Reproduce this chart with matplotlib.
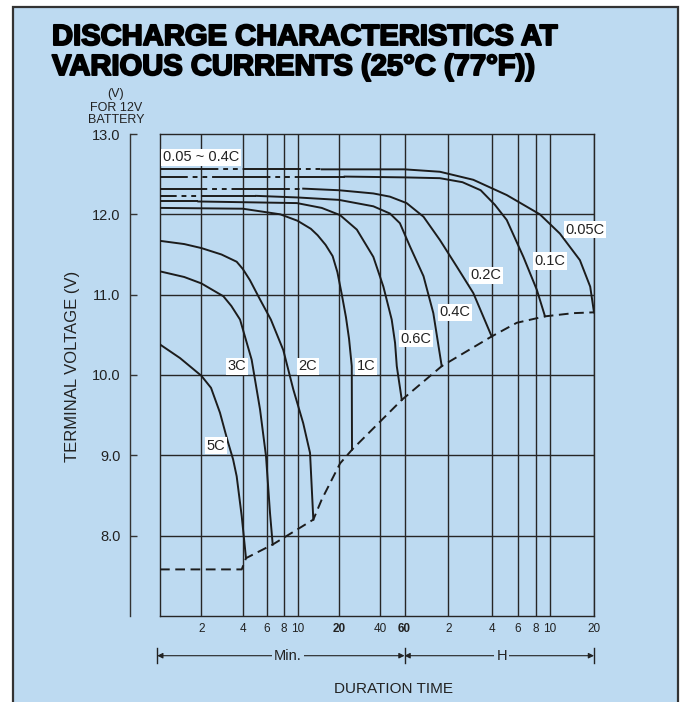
import numpy as np
import matplotlib
matplotlib.use("Agg")
import matplotlib.pyplot as plt
from matplotlib import patheffects as pe
from matplotlib.patches import Rectangle
from matplotlib.transforms import blended_transform_factory
from matplotlib.ticker import NullLocator

plt.rcParams['font.family'] = ['Liberation Sans', 'DejaVu Sans']
plt.rcParams['lines.scale_dashes'] = False

# ---------------- data (x in minutes, voltage in V) ----------------
C005_X = [1, 15, 60, 105, 178, 302, 510, 700, 960, 1130, 1200]
C005_V = [12.56, 12.56, 12.56, 12.53, 12.43, 12.24, 12.0, 11.76, 11.43, 11.10, 10.78]
C01_X = [1, 22, 60, 105, 150, 200, 250, 302, 393, 486, 553]
C01_V = [12.47, 12.47, 12.46, 12.45, 12.40, 12.30, 12.12, 11.93, 11.47, 11.06, 10.73]
C02_X = [1, 11, 20, 35.6, 47, 62, 81, 105, 137, 178, 238]
C02_V = [12.32, 12.32, 12.30, 12.26, 12.22, 12.14, 11.97, 11.68, 11.35, 11.02, 10.48]
C04_X = [1, 5, 10, 20, 35.6, 47, 55.5, 65.4, 81, 94.6, 108]
C04_V = [12.23, 12.23, 12.21, 12.18, 12.10, 12.01, 11.89, 11.60, 11.23, 10.77, 10.11]
C06_X = [1, 1.9, 9.9, 15, 20.4, 27, 35.6, 42.1, 48.4, 51.2, 52.7, 57.3]
C06_V = [12.16, 12.16, 12.14, 12.08, 11.99, 11.81, 11.47, 11.10, 10.69, 10.40, 10.11, 9.69]
C1_X = [1, 4, 7.5, 10, 12.5, 14, 16, 18, 19.5, 21, 22.5, 23.7, 24.8, 24.9]
C1_V = [12.08, 12.07, 12.0, 11.92, 11.82, 11.74, 11.62, 11.48, 11.28, 11.0, 10.72, 10.45, 10.11, 9.07]
C2_X = [1, 1.5, 2, 2.8, 3.61, 4.0, 4.51, 5.3, 6.4, 7.88, 9.32, 11.0, 12.33, 13.03]
C2_V = [11.67, 11.63, 11.58, 11.50, 11.41, 11.32, 11.18, 10.95, 10.69, 10.31, 9.82, 9.40, 9.03, 8.20]
C3_X = [1, 1.5, 2, 2.89, 3.3, 3.82, 4.64, 5.34, 5.9, 6.31, 6.6]
C3_V = [11.29, 11.22, 11.14, 10.98, 10.86, 10.69, 10.19, 9.57, 8.99, 8.28, 7.89]
C5_X = [1, 1.4, 2.0, 2.35, 2.73, 3.09, 3.4, 3.61, 3.93, 4.22]
C5_V = [10.38, 10.21, 9.99, 9.84, 9.53, 9.19, 8.95, 8.74, 8.24, 7.72]

END_X = [1, 3.93, 4.22, 6.6, 13.03, 15.0, 20.4, 24.9, 57.3, 108, 238, 354, 553, 867, 1200]
END_V = [7.58, 7.58, 7.72, 7.89, 8.20, 8.45, 8.90, 9.07, 9.69, 10.11, 10.48, 10.65, 10.73, 10.77, 10.78]

CURVE_NAMES = ['0.05C', '0.1C', '0.2C', '0.4C', '0.6C', '1C', '2C', '3C', '5C']
CURVE_X = [C005_X, C01_X, C02_X, C04_X, C06_X, C1_X, C2_X, C3_X, C5_X]
CURVE_V = [C005_V, C01_V, C02_V, C04_V, C06_V, C1_V, C2_V, C3_V, C5_V]
APPROX_END = {'0.05C': 15, '0.1C': 22, '0.2C': 11, '0.4C': 5, '0.6C': 1.9}

LABEL_X = [1042, 599, 218, 133, 71.5, 31.5, 11.9, 3.63, 2.55]
LABEL_V = [11.81, 11.42, 11.24, 10.78, 10.45, 10.11, 10.11, 10.11, 9.12]

X_TICKS = [2, 4, 6, 8, 10, 20, 40, 60, 120, 240, 360, 480, 600, 1200]
X_TICK_LABELS = ['2', '4', '6', '8', '10', '20', '40', '60', '2', '4', '6', '8', '10', '20']
Y_TICKS = [8, 9, 10, 11, 12, 13]
Y_GRID = [8, 9, 10, 11, 12]

# ---------------- styling ----------------
BG = '#bddaf1'
INK = '#1c1c1c'
GRIDC = '#262626'
DASH_OFFSETS = {'0.05C': 0, '0.1C': 22, '0.2C': 8, '0.4C': 30, '0.6C': 14}

L60 = np.log10(60.0)
K = 1.059

def fwd(x):
    x = np.asarray(x, dtype=float)
    lx = np.log10(np.clip(x, 1e-9, None))
    return np.where(lx <= L60, lx, L60 + K * (lx - L60))

def inv(u):
    u = np.asarray(u, dtype=float)
    return np.where(u <= L60, 10.0 ** u, 10.0 ** (L60 + (u - L60) / K))

fig = plt.figure(figsize=(6.85, 7.02), dpi=100)
fig.patch.set_facecolor('white')
panel = Rectangle((13 / 685, -0.05), 665 / 685, 1 - 7 / 702 + 0.05,
                  transform=fig.transFigure, facecolor=BG, edgecolor='#333333',
                  lw=1.6, zorder=0)
fig.add_artist(panel)

ax = fig.add_axes([160 / 685, 86 / 702, 434 / 685, 482 / 702])
ax.set_facecolor('none')
ax.set_xscale('function', functions=(fwd, inv))
ax.set_xlim(1, 1200)
ax.set_ylim(7, 13)

for s in ['top', 'right', 'bottom']:
    ax.spines[s].set_color(GRIDC)
    ax.spines[s].set_linewidth(1.0)
ax.spines['left'].set_position(('outward', 21.6))
ax.spines['left'].set_color('#333333')
ax.spines['left'].set_linewidth(1.0)
ax.axvline(1, color=GRIDC, lw=1.0, clip_on=False, zorder=1)

ax.set_xticks(X_TICKS)
ax.set_xticklabels(X_TICK_LABELS)
ax.xaxis.set_minor_locator(NullLocator())
ax.tick_params(axis='x', length=0, pad=5, labelsize=8.5, labelcolor='#222222')
for i, lab in enumerate(ax.get_xticklabels()):
    if X_TICK_LABELS[i] in ('20', '60') and X_TICKS[i] <= 60:
        lab.set_fontweight('bold')
for xv in X_TICKS:
    ax.axvline(xv, color=GRIDC, lw=1.0, zorder=1)

ax.set_yticks(Y_TICKS)
ax.set_yticklabels(['%.1f' % v for v in Y_TICKS])
ax.tick_params(axis='y', direction='in', length=5, width=1.0, pad=7,
               labelsize=10.5, labelcolor='#222222', color='#333333')
for yv in Y_GRID:
    ax.axhline(yv, color=GRIDC, lw=1.0, zorder=1)

# curves
for name, xs, vs in zip(CURVE_NAMES, CURVE_X, CURVE_V):
    xs = np.array(xs, dtype=float)
    vs = np.array(vs, dtype=float)
    if name in APPROX_END:
        xe = APPROX_END[name]
        m1 = xs <= xe
        m2 = xs >= xe
        ax.plot(xs[m1], vs[m1], color=INK, lw=1.4, zorder=3,
                linestyle=(DASH_OFFSETS[name], (42, 3.5, 3.5, 3.5, 3.5, 3.5)))
        ax.plot(xs[m2], vs[m2], color=INK, lw=1.4, zorder=3, solid_joinstyle='round')
    else:
        ax.plot(xs, vs, color=INK, lw=1.4, zorder=3, solid_joinstyle='round')

ax.plot(END_X, END_V, color=INK, lw=1.4, zorder=3, linestyle=(0, (7, 4)))

# labels
for name, lx, lv in zip(CURVE_NAMES, LABEL_X, LABEL_V):
    ax.text(lx, lv, name, ha='center', va='center', fontsize=10.5, color='#222222',
            zorder=5, bbox=dict(facecolor='white', edgecolor='none', pad=1.2))
ax.text(1.05, 12.71, '0.05 ~ 0.4C', ha='left', va='center', fontsize=10.5,
        color='#222222', zorder=5,
        bbox=dict(facecolor='white', edgecolor='none', pad=1.2))

# duration arrows
trans = blended_transform_factory(ax.transData, ax.transAxes)
ya = -(655.7 - 616) / 482
yb0 = -(648 - 616) / 482
yb1 = -(663 - 616) / 482
for xb in (0.952, 60, 1200):
    ax.plot([xb, xb], [yb0, yb1], transform=trans, clip_on=False, color='#222222', lw=1.0)
ax.annotate('', xy=(0.955, ya), xytext=(60, ya), xycoords=trans, textcoords=trans,
            arrowprops=dict(arrowstyle='<|-|>', color='#222222', lw=0.8,
                            mutation_scale=8, shrinkA=0, shrinkB=0),
            annotation_clip=False)
ax.annotate('', xy=(60, ya), xytext=(1200, ya), xycoords=trans, textcoords=trans,
            arrowprops=dict(arrowstyle='<|-|>', color='#222222', lw=0.8,
                            mutation_scale=8, shrinkA=0, shrinkB=0),
            annotation_clip=False)
ax.text(8.5, ya, 'Min.', transform=trans, ha='center', va='center', fontsize=10.5,
        color='#222222', bbox=dict(facecolor=BG, edgecolor='none', pad=1.5), clip_on=False)
ax.text(279, ya, 'H', transform=trans, ha='center', va='center', fontsize=10.5,
        color='#222222', bbox=dict(facecolor=BG, edgecolor='none', pad=1.5), clip_on=False)

# figure texts
stroke = [pe.withStroke(linewidth=1.4, foreground='black')]
fig.text(52 / 685, 1 - 45 / 702, 'DISCHARGE CHARACTERISTICS AT', fontsize=21,
         fontweight='bold', color='black', va='baseline', ha='left', path_effects=stroke)
fig.text(52 / 685, 1 - 75 / 702, 'VARIOUS CURRENTS (25°C (77°F))', fontsize=21,
         fontweight='bold', color='black', va='baseline', ha='left', path_effects=stroke)
fig.text(116 / 685, 1 - 97.5 / 702, '(V)', fontsize=9, ha='center', va='baseline', color='#222222')
fig.text(116 / 685, 1 - 110.7 / 702, 'FOR 12V', fontsize=9, ha='center', va='baseline', color='#222222')
fig.text(116 / 685, 1 - 123 / 702, 'BATTERY', fontsize=9, ha='center', va='baseline', color='#222222')
fig.text(72 / 685, 1 - 366 / 702, 'TERMINAL VOLTAGE (V)', rotation=90, ha='center',
         va='center', fontsize=12, color='#222222')
fig.text(393.7 / 685, 1 - 689.3 / 702, 'DURATION TIME', ha='center', va='center',
         fontsize=11, color='#222222')

fig.savefig('out.png', dpi=100, facecolor=fig.get_facecolor())
